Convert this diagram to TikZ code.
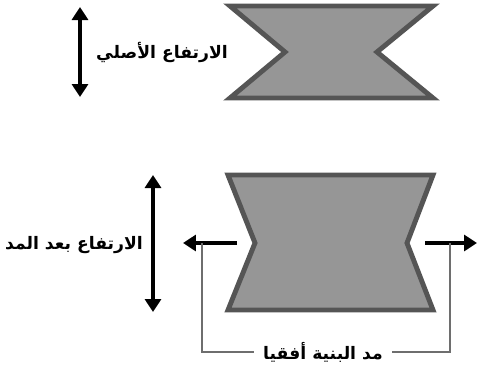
\documentclass[tikz,border=0pt]{standalone}
\usepackage{fontspec}
\usetikzlibrary{arrows.meta, positioning, calc}
\TeXXeTstate=1
\newfontfamily\arabicfont[Script=Arabic]{DejaVu Sans}
\definecolor{cFill}{RGB}{150,150,150}
\definecolor{cEdge}{RGB}{85,85,85}
\definecolor{cBracket}{RGB}{110,110,110}
\tikzset{
	body/.style     ={fill=cFill, draw=cEdge, line width=2.8pt, line join=miter},
	dimarrow/.style ={{Triangle[length=2.6mm, width=3.2mm]}-{Triangle[length=2.6mm, width=3.2mm]}, line width=2.2pt},
	pullarrow/.style={-{Triangle[length=2.6mm, width=3.2mm]}, line width=2.2pt},
	bracket/.style  ={draw=cBracket, line width=0.8pt},
	lbl/.style      ={font=\arabicfont\bfseries\fontsize{9.8}{12}\selectfont, inner sep=2pt},
}

\begin{document}
\begin{tikzpicture}[x=0.02cm, y=-0.02cm]
	\useasboundingbox (0,0) rectangle (477,369);
	% ---- original block ----
	\draw[body] (230,6) -- (433,6) -- (377,52) -- (433,98) -- (230,98) -- (285,52) -- cycle;
	\coordinate (topA) at (80,7);
	\coordinate (topB) at (80,97);
	\draw[dimarrow] (topA) -- (topB);
	\node[lbl] (origlbl) at (162,52) {\beginR الارتفاع الأصلي\endR};
	% ---- stretched block ----
	\draw[body] (228,175) -- (433,175) -- (407,243) -- (433,310) -- (228,310) -- (255,243) -- cycle;
	\coordinate (botA) at (153,175);
	\coordinate (botB) at (153,312);
	\draw[dimarrow] (botA) -- (botB);
	\node[lbl] (stretchlbl) at (74,245) {\beginR الارتفاع بعد المد\endR};
	% ---- pull arrows ----
	\coordinate (lfrom) at (237,243);
	\coordinate (lto) at (183,243);
	\coordinate (rfrom) at (425,243);
	\coordinate (rto) at (477,243);
	\draw[pullarrow] (lfrom) -- (lto);
	\draw[pullarrow] (rfrom) -- (rto);
	% ---- bracket ----
	\node[lbl, inner sep=5pt] (widelbl) at (323,352) {\beginR مد البنية أفقيا\endR};
	\coordinate (lfoot) at (202,243);
	\coordinate (rfoot) at (450,243);
	\draw[bracket] (lfoot) |- (widelbl.west);
	\draw[bracket] (rfoot) |- (widelbl.east);
\end{tikzpicture}
\end{document}
